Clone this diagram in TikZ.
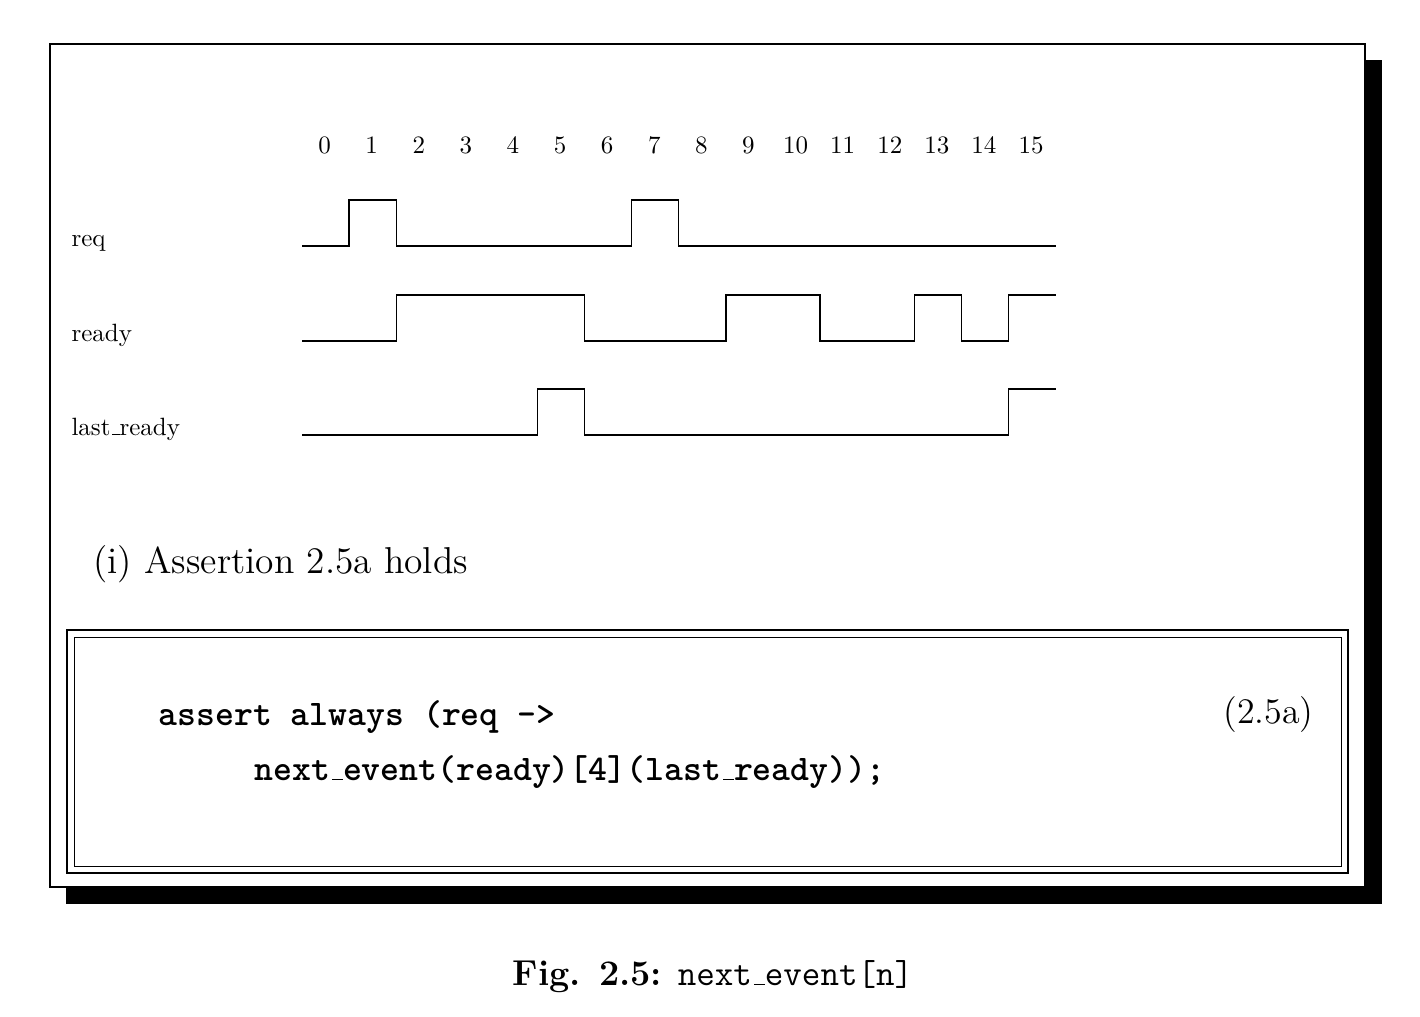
\documentclass[tikz,border=0pt]{standalone}
\usepackage{amsmath}
\usepackage{amssymb}
% short low underscore
\newcommand{\uscore}{\leavevmode\kern.06em\vbox{\hrule width.3em}}

\begin{document}
\begin{tikzpicture}[x=0.4pt,y=-0.4pt,
        every node/.style={inner sep=0pt},
        wave/.style={line width=0.5pt},
        code/.style={font=\Large\ttfamily\bfseries}]
        \useasboundingbox (0,0) rectangle (1420,1016);
        % frame with shadow
        \fill[black] (66,60) rectangle (1382,904);
        \draw[fill=white,line width=0.6pt] (50,44) rectangle (1365,887);

        % cycle numbers
        \foreach \n in {0,...,15}
            \node[anchor=base] (c\n) at ({301+47.1*(\n+0.5)},153) {\n};

        % signal names, baseline on the low level
        \node[anchor=base west] (req) at (71,246) {req};
        \node[anchor=base west] (ready) at (71,341) {ready};
        \node[anchor=base west] (lastready) at (71,435) {last\uscore ready};

        % waveforms, one bit per cycle
        \foreach \y/\bits in {246/{0,1,0,0,0,0,0,1,0,0,0,0,0,0,0,0},
                              341/{0,0,1,1,1,1,0,0,0,1,1,0,0,1,0,1},
                              435/{0,0,0,0,0,1,0,0,0,0,0,0,0,0,0,1}}
            \draw[wave] (302,\y) \foreach \b [count=\i from 0] in \bits
                { -- ({302+47.1*\i},{\y-46*\b}) -- ({302+47.1*(\i+1)},{\y-46*\b}) };

        \node[anchor=base west,font=\Large] (sub) at (93,573) {\scalebox{1.04}{(i) Assertion 2.5a holds}};

        % assertion box
        \draw[line width=0.7pt] (67,630) rectangle (1348,873);
        \draw[line width=0.4pt] (74,637) rectangle (1341,866);
        \node[anchor=base west,code] (line1) at (158,725) {assert always (req ->};
        \node[anchor=base west,code] (line2) at (254,780) {next\uscore event(ready)[4](last\uscore ready));};
        \node[anchor=base east,font=\Large] (eqno) at (1314,723) {(2.5a)};

        \node[anchor=base,font=\Large] (cap) at (713,985) {\textbf{Fig. 2.5:} \texttt{next\uscore event[n]}};
    \end{tikzpicture}
\end{document}
